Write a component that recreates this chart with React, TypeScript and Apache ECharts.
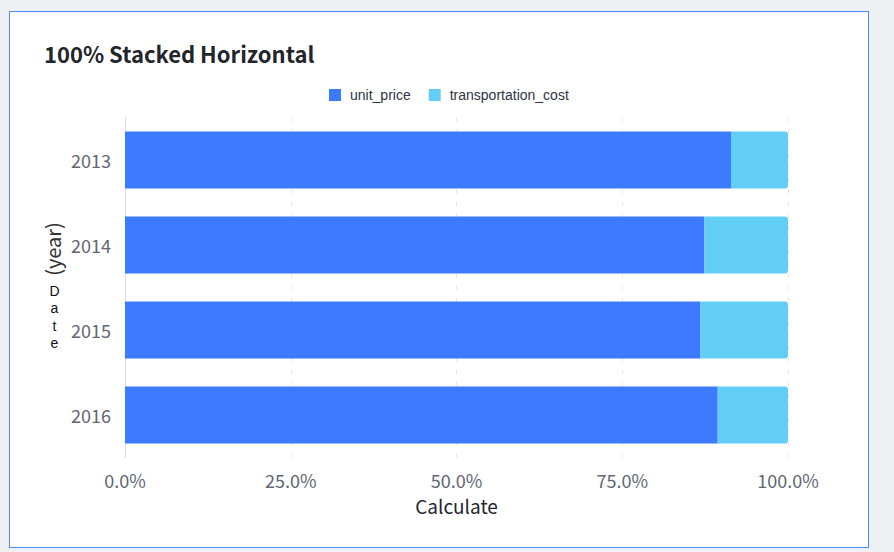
import React, { useEffect, useRef } from "react";
import * as echarts from "echarts";

const years = ["2013", "2014", "2015", "2016"];
const unitPricePct = [91.4, 87.4, 86.8, 89.4];
const transportationCostPct = [8.6, 12.6, 13.2, 10.6];
const xTicks = [0, 25, 50, 75, 100];

const FONT = "'Noto Sans CJK SC', 'Noto Sans', sans-serif";

export default function App() {
  const ref = useRef<HTMLDivElement>(null);
  useEffect(() => {
    document.body.style.margin = "0";
    const chart = echarts.init(ref.current!, undefined, { renderer: "svg" });
    chart.setOption({
      animation: false,
      title: {
        text: "100% Stacked Horizontal",
        left: 44,
        top: 42,
        padding: 0,
        textStyle: { fontFamily: FONT, fontSize: 22, fontWeight: "bold", color: "#21252c" },
      },
      legend: {
        left: 329,
        top: 88,
        padding: 0,
        icon: "rect",
        itemWidth: 12,
        itemHeight: 12,
        itemGap: 18,
        textStyle: {
          fontFamily: "'Liberation Sans', Arial, sans-serif",
          fontSize: 14,
          color: "#2c3542",
          padding: [0, 0, 0, 4],
        },
        data: ["unit_price", "transportation_cost"],
      },
      grid: { left: 125, right: 106, top: 117.5, height: 340 },
      xAxis: {
        type: "value",
        min: xTicks[0],
        max: xTicks[xTicks.length - 1],
        interval: 25,
        name: "Calculate",
        nameLocation: "middle",
        nameGap: 38,
        nameTextStyle: { fontFamily: FONT, fontSize: 19, color: "#21252c" },
        axisLine: { show: false },
        axisTick: { show: false },
        axisLabel: {
          fontFamily: FONT,
          fontSize: 18,
          color: "#606773",
          margin: 13,
          formatter: (v: number) => v.toFixed(1) + "%",
        },
        splitLine: { show: true, lineStyle: { color: "#e3e6eb", type: [4, 8], width: 1 } },
      },
      yAxis: {
        type: "category",
        data: years,
        inverse: true,
        axisLine: { show: true, lineStyle: { color: "#d9dde4", width: 1 } },
        axisTick: { show: false },
        axisLabel: { fontFamily: FONT, fontSize: 18, color: "#606773", margin: 14 },
        splitLine: { show: false },
      },
      series: [
        {
          name: "unit_price",
          type: "bar",
          stack: "total",
          barWidth: 57,
          data: unitPricePct,
          itemStyle: { color: "#3c7bff" },
        },
        {
          name: "transportation_cost",
          type: "bar",
          stack: "total",
          barWidth: 57,
          data: transportationCostPct,
          itemStyle: { color: "#63cef5", borderRadius: [0, 3, 3, 0] },
        },
      ],
      graphic: [
        {
          type: "text",
          x: 52,
          y: 249,
          rotation: Math.PI / 2,
          style: {
            text: "(year)",
            fontFamily: FONT,
            fontSize: 20,
            fill: "#333",
            align: "center",
            verticalAlign: "middle",
          },
        },
        {
          type: "text",
          x: 54.5,
          y: 282,
          style: {
            text: "D\na\nt\ne",
            fontFamily: "'Liberation Sans', Arial, sans-serif",
            fontSize: 14,
            lineHeight: 17.5,
            fill: "#111",
            align: "center",
            verticalAlign: "top",
          },
        },
      ],
    });
    return () => chart.dispose();
  }, []);
  return (
    <div style={{ position: "fixed", left: 0, top: 0, width: 894, height: 552, background: "#eff0f4" }}>
      <div
        style={{
          position: "absolute",
          left: 9,
          top: 11,
          width: 860,
          height: 537,
          border: "1.5px solid #4a8bff",
          background: "#fff",
          boxSizing: "border-box",
        }}
      />
      <div ref={ref} style={{ position: "absolute", left: 0, top: 0, width: 894, height: 552 }} />
    </div>
  );
}
